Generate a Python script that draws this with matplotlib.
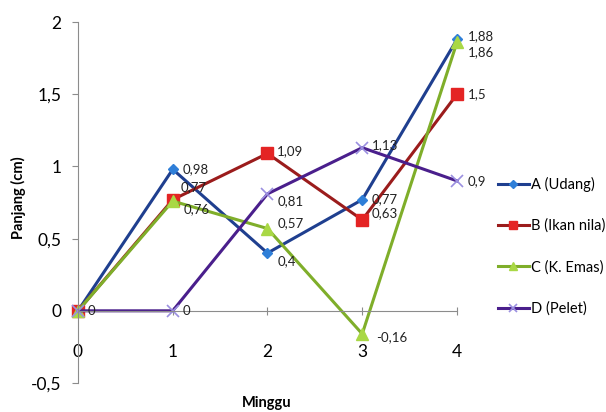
import matplotlib
matplotlib.use("Agg")
import matplotlib.pyplot as plt

plt.rcParams['font.family'] = ['Lato', 'DejaVu Sans']

minggu = [0, 1, 2, 3, 4]
seri = ['A (Udang)', 'B (Ikan nila)', 'C (K. Emas)', 'D (Pelet)']
a_udang = [0, 0.98, 0.4, 0.77, 1.88]
b_nila = [0, 0.77, 1.09, 0.63, 1.5]
c_emas = [0, 0.76, 0.57, -0.16, 1.86]
d_pelet = [0, 0, 0.81, 1.13, 0.9]
y_ticks = [-0.5, 0, 0.5, 1, 1.5, 2]

# which points get a value label, and the label offset in points
a_lbl = [None, (7, 0), (7, -6), (7, 0), (8, 2)]
b_lbl = [None, (6, 9), (7, 2), (7, 5), (8, 0)]
c_lbl = [None, (8, -6), (7, 4), (10, -2), (8, -7)]
d_lbl = [(7, 0), (7, 0), (7, -5), (7, 2), (8, 0)]

styles = [
    dict(color='#1f3f8f', marker='D', ms=5, mfc='#2f7fd8', mec='#2f7fd8'),
    dict(color='#9b1c1c', marker='s', ms=8, mfc='#e42424', mec='#e42424'),
    dict(color='#7fae2a', marker='^', ms=8, mfc='#a9d845', mec='#a9d845'),
    dict(color='#4a1f8c', marker='x', ms=8, mfc='#9a8fe0', mec='#9a8fe0', mew=1.2),
]


def fmt(v):
    return ('%g' % v).replace('.', ',')


fig = plt.figure(figsize=(6.06, 4.12), dpi=100)
ax = fig.add_axes([0.1287, 0.0704, 0.6254, 0.876])

for name, vals, lbls, st in zip(seri, [a_udang, b_nila, c_emas, d_pelet],
                                [a_lbl, b_lbl, c_lbl, d_lbl], styles):
    ax.plot(minggu, vals, lw=2.2, label=name, clip_on=False, **st)
    for x, v, off in zip(minggu, vals, lbls):
        if off is None:
            continue
        ax.annotate(fmt(v), (x, v), xytext=off, textcoords='offset points',
                    ha='left', va='center', fontsize=9.5, color='#222222')

ax.set_xlim(0, 4)
ax.set_ylim(-0.5, 2)
ax.set_xticks(minggu)
ax.set_yticks(y_ticks)
ax.set_yticklabels([fmt(t) for t in y_ticks])
ax.spines['top'].set_visible(False)
ax.spines['right'].set_visible(False)
ax.spines['left'].set_color('#8c8c8c')
ax.spines['bottom'].set_color('#8c8c8c')
ax.spines['bottom'].set_position(('data', 0))
ax.tick_params(axis='y', length=4, color='#8c8c8c', labelsize=12.5, pad=8)
ax.tick_params(axis='x', direction='inout', length=6, color='#8c8c8c',
               labelsize=12.5, pad=21)

fig.text(0.03, 0.52, 'Panjang (cm)', rotation=90, ha='center', va='center',
         fontsize=10.5, fontweight='bold')
fig.text(0.44, 0.022, 'Minggu', ha='center', va='center',
         fontsize=10.5, fontweight='bold')

fig.legend(loc='upper left', bbox_to_anchor=(0.812, 0.585), frameon=False,
           fontsize=10.5, labelspacing=1.85, handlelength=2.1,
           handletextpad=0.2, borderaxespad=0, markerscale=0.75)

fig.savefig('out.png', dpi=100)
